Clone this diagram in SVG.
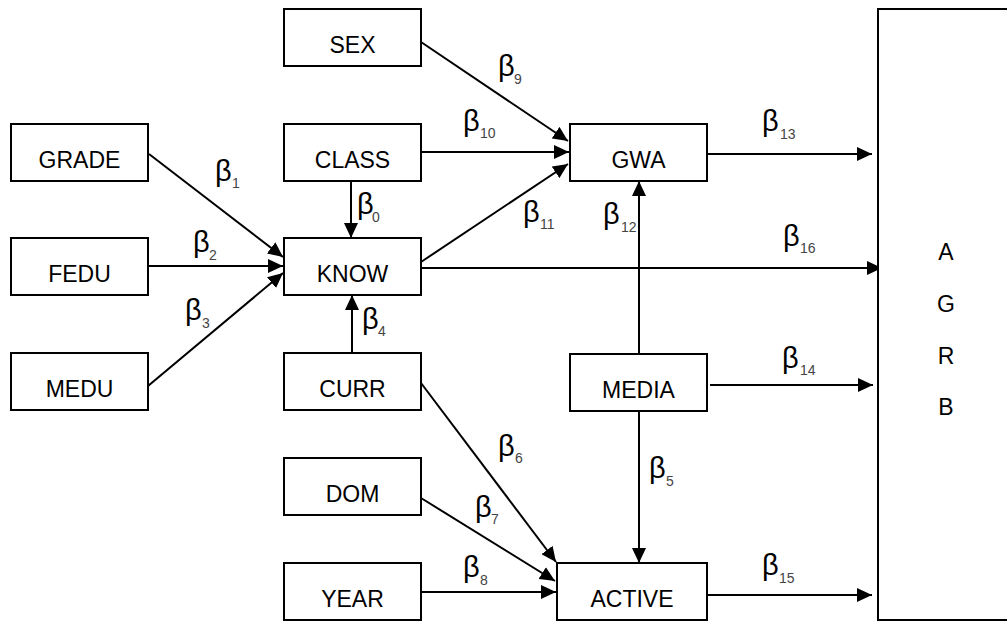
<svg xmlns="http://www.w3.org/2000/svg" width="1007" height="621" viewBox="0 0 1007 621">
<style>
.box{fill:#fff;stroke:#000;stroke-width:2}
.lbl{font-family:"Liberation Sans",Arial,sans-serif;font-size:23px;fill:#000;text-anchor:middle}
.b{font-family:"Liberation Sans",Arial,sans-serif;font-size:29px;fill:#000}
.s{font-family:"Liberation Sans",Arial,sans-serif;font-size:14px;fill:#444}
.c{stroke:#000;stroke-width:2;fill:none;marker-end:url(#ah)}
</style>
<defs>
<marker id="ah" markerUnits="userSpaceOnUse" markerWidth="16" markerHeight="14" refX="15" refY="7" orient="auto">
<path d="M0,0 L15,7 L0,14 z" fill="#000"/>
</marker>
</defs>
<rect width="1007" height="621" fill="#fff"/>
<g id="connectors">
<line class="c" x1="421" y1="42" x2="568" y2="141"/>
<line class="c" x1="421" y1="152" x2="569" y2="152"/>
<line class="c" x1="421" y1="262" x2="568" y2="164"/>
<line class="c" x1="149" y1="154" x2="283" y2="257"/>
<line class="c" x1="148" y1="266" x2="283" y2="266"/>
<line class="c" x1="148" y1="386" x2="283" y2="273"/>
<line class="c" x1="351" y1="181" x2="351" y2="238"/>
<line class="c" x1="352" y1="353" x2="352" y2="295"/>
<line class="c" x1="421" y1="268" x2="882" y2="268"/>
<line class="c" x1="707" y1="154" x2="872" y2="154"/>
<line class="c" x1="639" y1="354" x2="639" y2="181"/>
<line class="c" x1="710" y1="385" x2="873" y2="385"/>
<line class="c" x1="639" y1="411" x2="639" y2="563"/>
<line class="c" x1="707" y1="595" x2="872" y2="595"/>
<line class="c" x1="421" y1="383" x2="556" y2="562"/>
<line class="c" x1="421" y1="498" x2="555" y2="581"/>
<line class="c" x1="421" y1="592" x2="556" y2="592"/>
</g>
<g id="labels">
<text class="b" x="357" y="214">β</text><text class="s" x="372" y="222">0</text>
<text class="b" x="215" y="181">β</text><text class="s" x="232" y="188">1</text>
<text class="b" x="193" y="252">β</text><text class="s" x="209" y="260">2</text>
<text class="b" x="185" y="320">β</text><text class="s" x="202" y="328">3</text>
<text class="b" x="362" y="329">β</text><text class="s" x="378" y="336">4</text>
<text class="b" x="649" y="478">β</text><text class="s" x="666" y="486">5</text>
<text class="b" x="498" y="456">β</text><text class="s" x="515" y="463">6</text>
<text class="b" x="475" y="517">β</text><text class="s" x="491" y="524">7</text>
<text class="b" x="463" y="577">β</text><text class="s" x="480" y="585">8</text>
<text class="b" x="498" y="76">β</text><text class="s" x="514" y="84">9</text>
<text class="b" x="463" y="131">β</text><text class="s" x="480" y="138">10</text>
<text class="b" x="523" y="222">β</text><text class="s" x="540" y="229">11</text>
<text class="b" x="603" y="224">β</text><text class="s" x="621" y="232">12</text>
<text class="b" x="762" y="131">β</text><text class="s" x="780" y="139">13</text>
<text class="b" x="782" y="368">β</text><text class="s" x="800" y="375">14</text>
<text class="b" x="762" y="575">β</text><text class="s" x="779" y="583">15</text>
<text class="b" x="783" y="246">β</text><text class="s" x="800" y="253">16</text>
</g>
<g id="SEX"><rect class="box" x="284" y="9" width="137" height="57"/><text class="lbl" x="352.5" y="53">SEX</text></g>
<g id="GRADE"><rect class="box" x="11" y="124" width="137" height="57"/><text class="lbl" x="79.5" y="168">GRADE</text></g>
<g id="CLASS"><rect class="box" x="284" y="124" width="137" height="57"/><text class="lbl" x="352.5" y="168">CLASS</text></g>
<g id="GWA"><rect class="box" x="570" y="124" width="137" height="57"/><text class="lbl" x="638.5" y="168">GWA</text></g>
<g id="FEDU"><rect class="box" x="11" y="238" width="137" height="57"/><text class="lbl" x="79.5" y="282">FEDU</text></g>
<g id="KNOW"><rect class="box" x="284" y="238" width="137" height="57"/><text class="lbl" x="352.5" y="282">KNOW</text></g>
<g id="MEDU"><rect class="box" x="11" y="353" width="137" height="57"/><text class="lbl" x="79.5" y="397">MEDU</text></g>
<g id="CURR"><rect class="box" x="284" y="353" width="137" height="57"/><text class="lbl" x="352.5" y="397">CURR</text></g>
<g id="MEDIA"><rect class="box" x="570" y="354" width="137" height="57"/><text class="lbl" x="638.5" y="398">MEDIA</text></g>
<g id="DOM"><rect class="box" x="284" y="458" width="137" height="57"/><text class="lbl" x="352.5" y="502">DOM</text></g>
<g id="YEAR"><rect class="box" x="284" y="563" width="137" height="57"/><text class="lbl" x="352.5" y="607">YEAR</text></g>
<g id="ACTIVE"><rect class="box" x="557" y="563" width="150" height="57"/><text class="lbl" x="632" y="607">ACTIVE</text></g>
<g id="AGRB"><rect class="box" x="878" y="9" width="200" height="611"/>
<text class="lbl" x="946" y="260">A</text>
<text class="lbl" x="946" y="312">G</text>
<text class="lbl" x="946" y="364">R</text>
<text class="lbl" x="946" y="415">B</text></g>
</svg>
